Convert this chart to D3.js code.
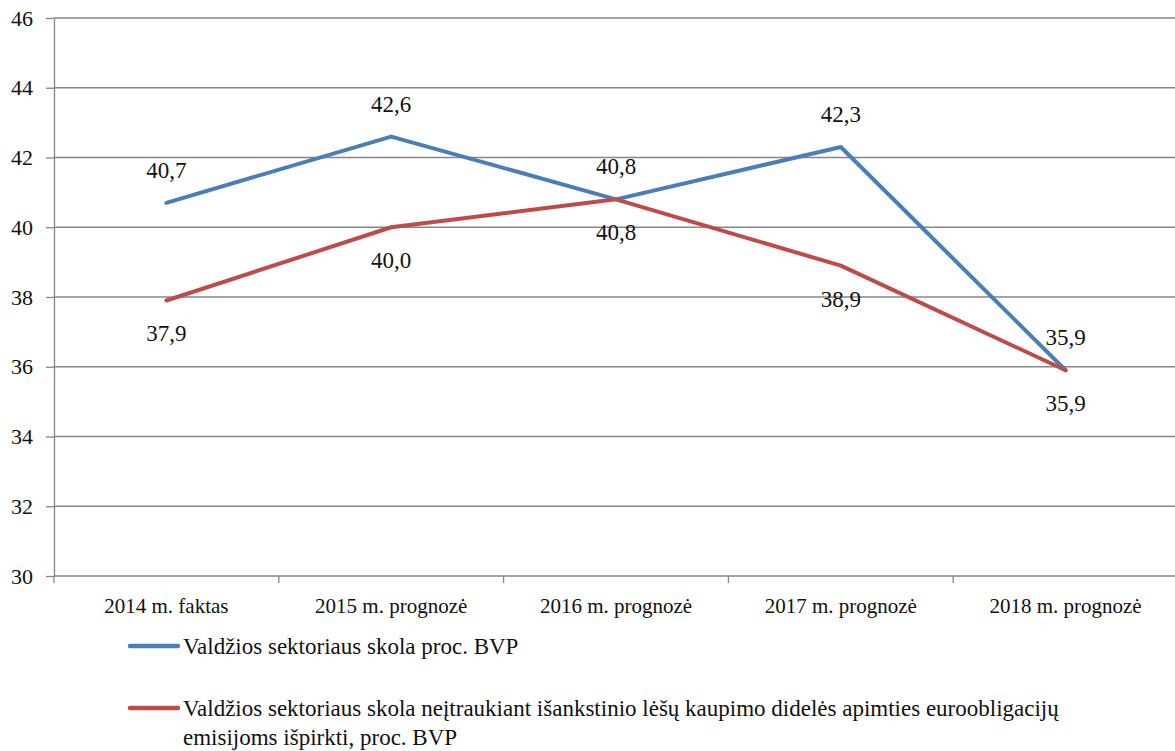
<!DOCTYPE html>
<html lang="lt">
<head>
<meta charset="utf-8">
<script src="https://cdn.jsdelivr.net/npm/d3@7/dist/d3.min.js"></script>
<style>
  html, body { margin: 0; padding: 0; background: #fff; }
  svg { display: block; }
  text { font-family: "Liberation Serif", "DejaVu Serif", serif; fill: #111; }
</style>
</head>
<body>
<svg id="chart" width="1175" height="751"></svg>
<script>
// Valdžios sektoriaus skola, proc. BVP
const categories = ["2014 m. faktas", "2015 m. prognozė", "2016 m. prognozė", "2017 m. prognozė", "2018 m. prognozė"];
const debtTotal = [40.7, 42.6, 40.8, 42.3, 35.9];
const debtExclEurobonds = [37.9, 40.0, 40.8, 38.9, 35.9];
const seriesNames = [
  "Valdžios sektoriaus skola proc. BVP",
  "Valdžios sektoriaus skola neįtraukiant išankstinio lėšų kaupimo didelės apimties euroobligacijų emisijoms išpirkti, proc. BVP"
];
const seriesColors = ["#4a7ebb", "#be4b48"];
const yTicks = [30, 32, 34, 36, 38, 40, 42, 44, 46];

const svg = d3.select("#chart");
const gridColor = "#868686";

const x = d3.scaleBand().domain(categories).range([54, 1178]);
const y = d3.scaleLinear().domain([30, 46]).range([576, 18]);

const lt = d3.formatLocale({ decimal: ",", thousands: " ", grouping: [3], currency: ["", " €"] });
const fmt = lt.format(".1f");

// horizontal gridlines
svg.append("g")
  .selectAll("line")
  .data(yTicks.filter(t => t !== 30))
  .join("line")
  .attr("x1", x.range()[0]).attr("x2", x.range()[1])
  .attr("y1", d => y(d)).attr("y2", d => y(d))
  .attr("stroke", gridColor).attr("stroke-width", 1.3);

// y axis
const yAxis = svg.append("g")
  .attr("transform", `translate(${x.range()[0]},0)`)
  .call(d3.axisLeft(y).tickValues(yTicks).tickSize(8).tickSizeOuter(0).tickPadding(13).tickFormat(d3.format("d")));
yAxis.selectAll("path, line").attr("stroke", gridColor).attr("stroke-width", 1.3);
yAxis.selectAll("text").attr("font-size", 22).style("font-family", "Liberation Serif").attr("fill", "#111");

// x axis: baseline with ticks at category boundaries
const xAxis = svg.append("g").attr("transform", `translate(0,${y(30)})`);
xAxis.append("line")
  .attr("x1", x.range()[0]).attr("x2", x.range()[1])
  .attr("stroke", gridColor).attr("stroke-width", 1.3);
xAxis.selectAll("line.tick")
  .data(categories.map(c => x(c)).concat([x.range()[1]]))
  .join("line")
  .attr("class", "tick")
  .attr("x1", d => d).attr("x2", d => d)
  .attr("y1", 0).attr("y2", 7)
  .attr("stroke", gridColor).attr("stroke-width", 1.3);
xAxis.selectAll("text")
  .data(categories)
  .join("text")
  .attr("x", d => x(d) + x.bandwidth() / 2)
  .attr("y", 37)
  .attr("text-anchor", "middle")
  .attr("font-size", 21)
  .text(d => d);

// series lines and value labels
const cx = c => x(c) + x.bandwidth() / 2;
const line = d3.line().x(d => cx(d.c)).y(d => y(d.v));
const series = [debtTotal, debtExclEurobonds].map((vals, i) => ({
  name: seriesNames[i],
  color: seriesColors[i],
  points: vals.map((v, j) => ({ c: categories[j], v }))
}));

series.forEach((s, i) => {
  svg.append("path")
    .datum(s.points)
    .attr("d", line)
    .attr("fill", "none")
    .attr("stroke", s.color)
    .attr("stroke-width", 4)
    .attr("stroke-linejoin", "round")
    .attr("stroke-linecap", "round");
});

series.forEach((s, i) => {
  svg.append("g")
    .selectAll("text")
    .data(s.points)
    .join("text")
    .attr("x", d => cx(d.c))
    .attr("y", d => y(d.v) + (i === 0 ? -25 : 41))
    .attr("text-anchor", "middle")
    .attr("font-size", 23)
    .text(d => fmt(d.v));
});

// legend
const legend = svg.append("g");
const legendTop = [646, 708];
series.forEach((s, i) => {
  const g = legend.append("g").attr("transform", `translate(0,${legendTop[i]})`);
  g.append("line")
    .attr("x1", 130).attr("x2", 178)
    .attr("stroke", s.color).attr("stroke-width", 4.5)
    .attr("stroke-linecap", "round");
  const t = g.append("text")
    .attr("x", 183).attr("y", 8)
    .attr("font-size", 23);
  // wrap long names
  const words = s.name.split(" ");
  let lineWords = [];
  let tspan = t.append("tspan").attr("x", 183).attr("dy", 0);
  words.forEach(w => {
    lineWords.push(w);
    tspan.text(lineWords.join(" "));
    if (tspan.node().getComputedTextLength() > 920 && lineWords.length > 1) {
      lineWords.pop();
      tspan.text(lineWords.join(" "));
      lineWords = [w];
      tspan = t.append("tspan").attr("x", 183).attr("dy", 29).text(w);
    }
  });
});
</script>
</body>
</html>
